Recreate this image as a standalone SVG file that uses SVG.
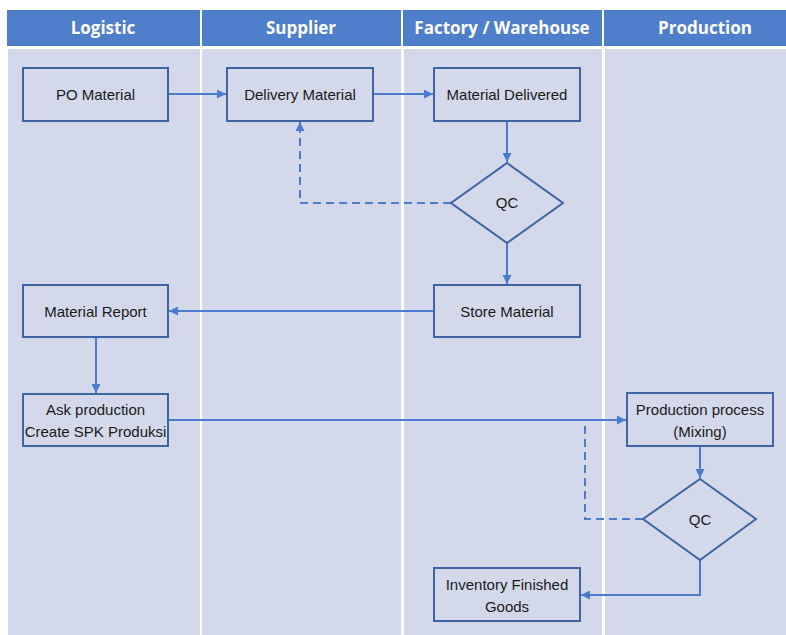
<svg xmlns="http://www.w3.org/2000/svg" width="786" height="635" viewBox="0 0 786 635">
<defs>
<marker id="ah" viewBox="0 0 10 10" refX="10" refY="5" markerWidth="9" markerHeight="9" markerUnits="userSpaceOnUse" orient="auto">
<path d="M0,0 L10,5 L0,10 z" fill="#4A7BCF"/>
</marker>
<style>
.hdr{fill:#4F7ECA;}
.hdrt{fill:#fff;font-family:"Open Sans","Liberation Sans",sans-serif;font-weight:bold;font-size:17px;text-anchor:middle;}
.lane{fill:#D3D9EB;}
.box{fill:#D3D9EB;stroke:#3F64A3;stroke-width:2;}
.t{fill:#1a1a1a;font-family:"Liberation Sans",Arial,sans-serif;font-size:15px;text-anchor:middle;}
.c{fill:none;stroke:#4A7BCF;stroke-width:2;}
.d{fill:none;stroke:#4A7BCF;stroke-width:2;stroke-dasharray:8,5;}
</style>
</defs>
<rect width="786" height="635" fill="#ffffff"/>
<g id="lanes">
<rect class="hdr" x="7" y="10" width="193" height="36"/>
<rect class="hdr" x="202" y="10" width="199" height="36"/>
<rect class="hdr" x="403" y="10" width="199" height="36"/>
<rect class="hdr" x="604" y="10" width="182" height="36"/>
<text class="hdrt" x="103" y="34">Logistic</text>
<text class="hdrt" x="301" y="34">Supplier</text>
<text class="hdrt" x="502" y="34">Factory / Warehouse</text>
<text class="hdrt" x="705" y="34">Production</text>
<rect class="lane" x="8" y="49" width="192" height="586"/>
<rect class="lane" x="202" y="49" width="199" height="586"/>
<rect class="lane" x="404" y="49" width="198" height="586"/>
<rect class="lane" x="605" y="49" width="181" height="586"/>
</g>
<g id="connectors">
<path class="c" d="M168,94 L226,94" marker-end="url(#ah)"/>
<path class="c" d="M373,94 L433,94" marker-end="url(#ah)"/>
<path class="c" d="M507,121 L507,162" marker-end="url(#ah)"/>
<path class="d" d="M451,203 L300,203 L300,131"/>
<path class="c" d="M300,131 L300,122" marker-end="url(#ah)"/>
<path class="c" d="M507,243 L507,284" marker-end="url(#ah)"/>
<path class="c" d="M434,311 L169,311" marker-end="url(#ah)"/>
<path class="c" d="M96,337 L96,393" marker-end="url(#ah)"/>
<path class="c" d="M168,420 L626,420" marker-end="url(#ah)"/>
<path class="d" d="M643,519 L585,519 L585,420"/>
<path class="c" d="M700,446 L700,478" marker-end="url(#ah)"/>
<path class="c" d="M700,560 L700,595 L581,595" marker-end="url(#ah)"/>
</g>
<g id="po-material">
<rect class="box" x="23" y="68" width="145" height="53"/>
<text class="t" x="95.5" y="100">PO Material</text>
</g>
<g id="delivery-material">
<rect class="box" x="227" y="68" width="146" height="53"/>
<text class="t" x="300" y="100">Delivery Material</text>
</g>
<g id="material-delivered">
<rect class="box" x="434" y="68" width="146" height="53"/>
<text class="t" x="507" y="100">Material Delivered</text>
</g>
<g id="qc1">
<polygon class="box" points="507,163 563,203 507,243 451,203"/>
<text class="t" x="507" y="208">QC</text>
</g>
<g id="store-material">
<rect class="box" x="434" y="285" width="146" height="52"/>
<text class="t" x="507" y="317">Store Material</text>
</g>
<g id="material-report">
<rect class="box" x="23" y="285" width="145" height="52"/>
<text class="t" x="95.5" y="317">Material Report</text>
</g>
<g id="ask-production">
<rect class="box" x="23" y="394" width="145" height="52"/>
<text class="t" x="95.5" y="415">Ask production</text>
<text class="t" x="95.5" y="437">Create SPK Produksi</text>
</g>
<g id="production-process">
<rect class="box" x="627" y="393" width="146" height="53"/>
<text class="t" x="700" y="415">Production process</text>
<text class="t" x="700" y="437">(Mixing)</text>
</g>
<g id="qc2">
<polygon class="box" points="700,479 756,519 700,560 643,519"/>
<text class="t" x="700" y="525">QC</text>
</g>
<g id="inventory-finished-goods">
<rect class="box" x="434" y="568" width="146" height="53"/>
<text class="t" x="507" y="590">Inventory Finished</text>
<text class="t" x="507" y="612">Goods</text>
</g>
</svg>
